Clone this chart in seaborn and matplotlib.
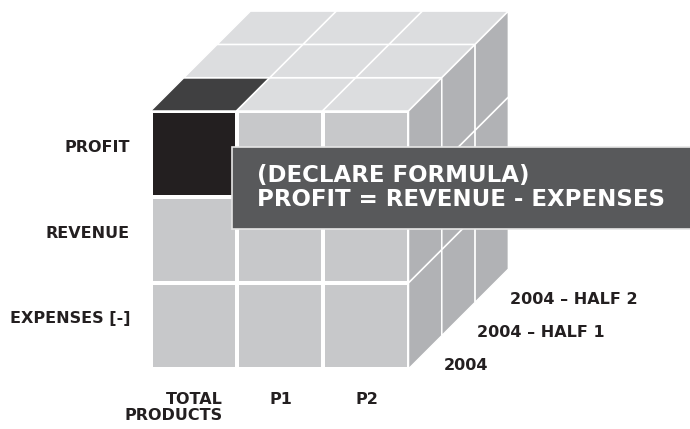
import numpy as np
import pandas as pd
import matplotlib
matplotlib.use("Agg")
import matplotlib.pyplot as plt
from matplotlib.colors import ListedColormap
from matplotlib.patches import Polygon, Rectangle
import seaborn as sns

sns.set_theme(style="white")
plt.rcParams['font.family'] = ['DejaVu Sans']

# cube dimensions
measures = ["PROFIT", "REVENUE", "EXPENSES [-]"]
products = ["TOTAL\nPRODUCTS", "P1", "P2"]
periods = ["2004", "2004 \u2013 HALF 1", "2004 \u2013 HALF 2"]
selected_measure = "PROFIT"
selected_product = "TOTAL\nPRODUCTS"
selected_period = "2004"
formula_lines = ["(DECLARE FORMULA)", "PROFIT = REVENUE - EXPENSES"]

# colours
front_col = "#c7c8ca"
top_col = "#dcdddf"
side_col = "#b1b2b5"
dark_front = "#231f20"
dark_top = "#404041"
box_col = "#58595b"
txt_col = "#231f20"

W, H = 690, 429
X0, Y0 = 150.5, 111     # front top-left corner (px)
CELL = 86
DEPTH = 33.3

nr, nc, nd = len(measures), len(products), len(periods)
sel_r = measures.index(selected_measure)
sel_c = products.index(selected_product)
sel_d = periods.index(selected_period)

fig = plt.figure(figsize=(W / 100, H / 100), dpi=100)
fig.patch.set_facecolor("white")

ax = fig.add_axes([0, 0, 1, 1])
ax.set_xlim(0, W)
ax.set_ylim(H, 0)
ax.axis("off")

# top face
for d in range(nd):
    for c in range(nc):
        pts = [(X0 + c * CELL + d * DEPTH, Y0 - d * DEPTH),
               (X0 + (c + 1) * CELL + d * DEPTH, Y0 - d * DEPTH),
               (X0 + (c + 1) * CELL + (d + 1) * DEPTH, Y0 - (d + 1) * DEPTH),
               (X0 + c * CELL + (d + 1) * DEPTH, Y0 - (d + 1) * DEPTH)]
        fc = dark_top if (d == sel_d and c == sel_c) else top_col
        ax.add_patch(Polygon(pts, closed=True, fc=fc, ec="white", lw=1.1))

# right face
XR = X0 + nc * CELL
for r in range(nr):
    for d in range(nd):
        pts = [(XR + d * DEPTH, Y0 + r * CELL - d * DEPTH),
               (XR + (d + 1) * DEPTH, Y0 + r * CELL - (d + 1) * DEPTH),
               (XR + (d + 1) * DEPTH, Y0 + (r + 1) * CELL - (d + 1) * DEPTH),
               (XR + d * DEPTH, Y0 + (r + 1) * CELL - d * DEPTH)]
        ax.add_patch(Polygon(pts, closed=True, fc=side_col, ec="white", lw=1.1))

# front face as a heatmap
sel = pd.DataFrame(0, index=measures, columns=products)
sel.loc[selected_measure, selected_product] = 1
axf = fig.add_axes([X0 / W, 1 - (Y0 + nr * CELL) / H, nc * CELL / W, nr * CELL / H])
sns.heatmap(sel, cmap=ListedColormap([front_col, dark_front]), vmin=0, vmax=1,
            cbar=False, linewidths=1.5, linecolor="white",
            xticklabels=False, yticklabels=False, ax=axf)
axf.set_xlabel("")
axf.set_ylabel("")

# overlay for callout and labels
axo = fig.add_axes([0, 0, 1, 1])
axo.set_xlim(0, W)
axo.set_ylim(H, 0)
axo.axis("off")
axo.patch.set_alpha(0)

axo.add_patch(Rectangle((232, 146.5), 470, 82, fc=box_col, ec="#e6e6e6", lw=1.2, clip_on=False))
axo.text(257, 187.5, "\n".join(formula_lines), color="white", fontsize=16.5,
         fontweight="bold", ha="left", va="center", linespacing=1.1)

for i, m in enumerate(measures):
    axo.text(130, Y0 + (i + 0.5) * CELL - 7, m, ha="right", va="center",
             fontsize=11.5, fontweight="bold", color=txt_col)

for j, p in enumerate(products):
    cx = X0 + (j + 0.5) * CELL
    if "\n" in p:
        axo.text(cx + 29, 392, p, ha="right", va="top", multialignment="right",
                 fontsize=11.5, fontweight="bold", color=txt_col, linespacing=1.1)
    else:
        axo.text(cx + 1, 392, p, ha="center", va="top",
                 fontsize=11.5, fontweight="bold", color=txt_col)

for d, t in enumerate(periods):
    axo.text(XR + d * DEPTH + 35, Y0 + nr * CELL - d * DEPTH - 3, t,
             ha="left", va="center", fontsize=11.5, fontweight="bold", color=txt_col)

fig.savefig("out.png", dpi=100, facecolor="white")
